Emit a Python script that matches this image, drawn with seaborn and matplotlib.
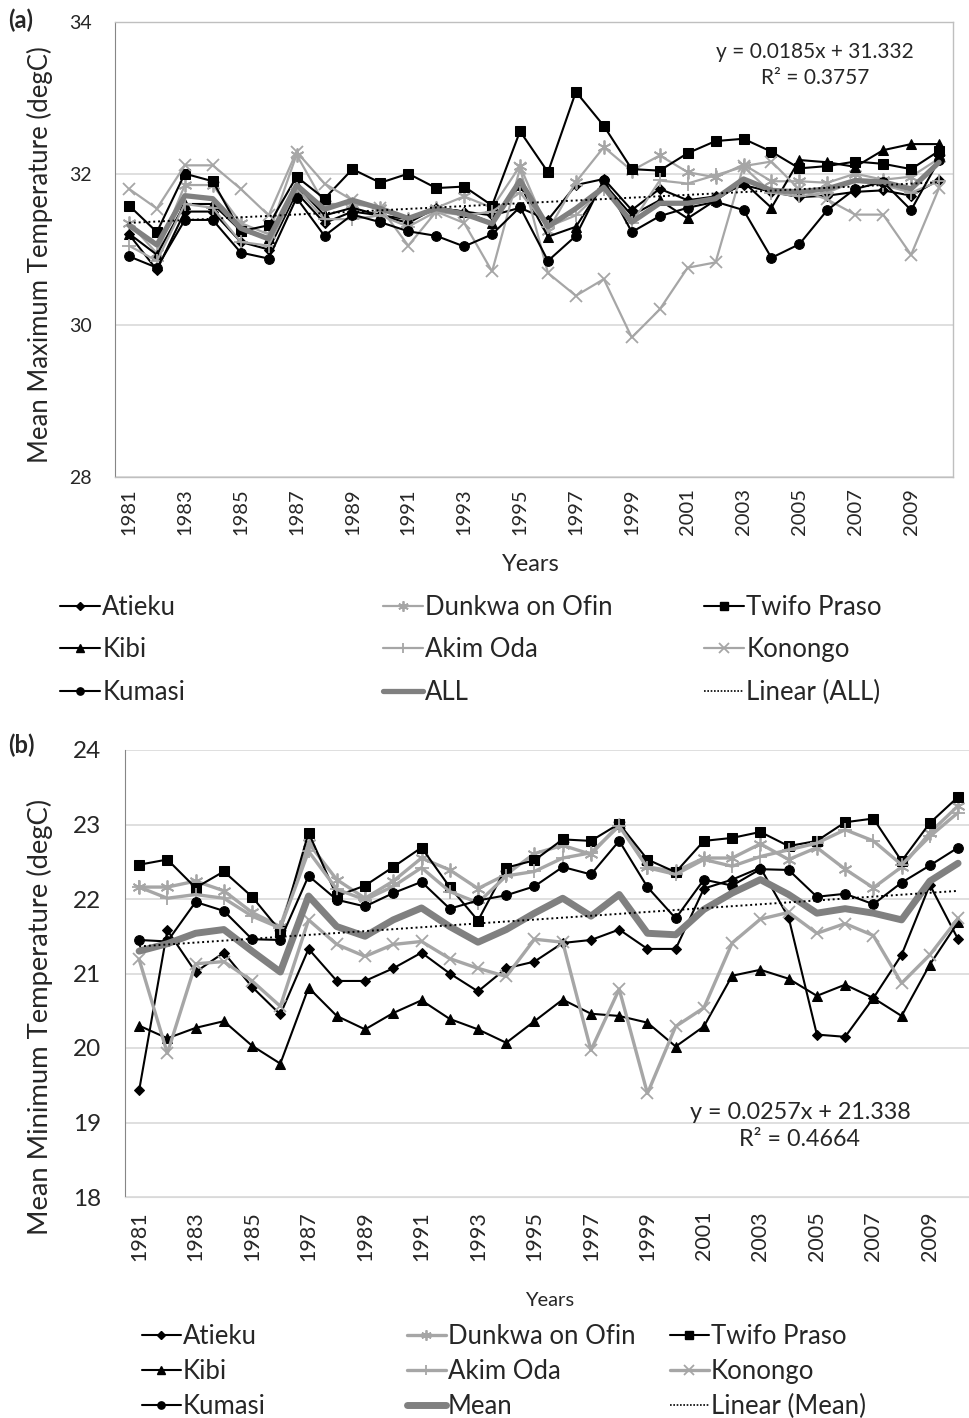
import matplotlib
matplotlib.use("Agg")
import matplotlib.pyplot as plt
from matplotlib.lines import Line2D
import seaborn as sns
import numpy as np

sns.set_style("white")
plt.rcParams['font.family'] = ['Lato', 'DejaVu Sans']

years = list(range(1981, 2011))
year_labels = [str(y) for y in range(1981, 2011, 2)]

# ---- Panel (a): mean maximum temperature ----
tmax_atieku = [31.20, 30.73, 31.50, 31.50, 31.10, 31.00, 31.75, 31.35, 31.50, 31.45,
               31.35, 31.55, 31.50, 31.45, 31.55, 31.39, 31.85, 31.93, 31.52, 31.80,
               31.65, 31.70, 31.85, 31.76, 31.69, 31.71, 31.76, 31.78, 31.71, 31.92]
tmax_kibi = [31.21, 30.93, 31.60, 31.60, 31.25, 31.15, 31.85, 31.45, 31.55, 31.45,
             31.40, 31.55, 31.50, 31.35, 31.85, 31.17, 31.30, 31.87, 31.45, 31.65,
             31.41, 31.65, 31.89, 31.55, 32.18, 32.15, 32.09, 32.31, 32.39, 32.39]
tmax_kumasi = [30.91, 30.76, 31.39, 31.39, 30.96, 30.88, 31.68, 31.18, 31.46, 31.36,
               31.24, 31.18, 31.04, 31.20, 31.56, 30.85, 31.18, 31.92, 31.23, 31.44,
               31.55, 31.63, 31.52, 30.89, 31.07, 31.52, 31.80, 31.89, 31.52, 32.18]
tmax_dunkwa = [31.35, 30.95, 31.85, 31.85, 31.35, 31.20, 32.25, 31.60, 31.60, 31.55,
               31.40, 31.55, 31.70, 31.55, 32.10, 31.25, 31.89, 32.35, 32.04, 32.24,
               32.02, 31.95, 32.12, 31.90, 31.90, 31.88, 32.00, 31.92, 31.96, 32.20]
tmax_akim = [31.05, 30.85, 31.60, 31.55, 31.10, 31.05, 31.80, 31.40, 31.40, 31.45,
             31.30, 31.50, 31.45, 31.50, 31.75, 31.30, 31.45, 31.80, 31.35, 31.91,
             31.87, 31.98, 32.09, 31.75, 31.70, 31.75, 31.90, 31.85, 31.75, 31.90]
tmax_twifo = [31.58, 31.23, 32.00, 31.90, 31.24, 31.32, 31.96, 31.67, 32.06, 31.88,
              32.00, 31.81, 31.83, 31.58, 32.56, 32.02, 33.08, 32.63, 32.06, 32.04,
              32.27, 32.43, 32.46, 32.29, 32.07, 32.10, 32.16, 32.13, 32.06, 32.30]
tmax_konongo = [31.80, 31.54, 32.11, 32.11, 31.80, 31.45, 32.29, 31.87, 31.65, 31.55,
                31.05, 31.50, 31.35, 30.71, 32.07, 30.69, 30.39, 30.61, 29.84, 30.21,
                30.76, 30.83, 32.10, 32.16, 31.79, 31.66, 31.46, 31.46, 30.93, 31.81]
tmax_all = [31.32, 31.06, 31.71, 31.67, 31.28, 31.14, 31.85, 31.53, 31.65, 31.54,
            31.41, 31.54, 31.47, 31.34, 31.91, 31.30, 31.54, 31.82, 31.36, 31.61,
            31.61, 31.67, 31.93, 31.78, 31.76, 31.80, 31.91, 31.89, 31.80, 32.15]
trend_a = [0.0185, 31.332]
eq_a = ["y = 0.0185x + 31.332", "R² = 0.3757"]

# ---- Panel (b): mean minimum temperature ----
tmin_atieku = [19.43, 21.58, 21.02, 21.28, 20.82, 20.45, 21.33, 20.90, 20.90, 21.07,
               21.28, 21.00, 20.76, 21.07, 21.16, 21.41, 21.45, 21.59, 21.33, 21.33,
               22.14, 22.26, 22.42, 21.75, 20.18, 20.15, 20.67, 21.25, 22.19, 21.46]
tmin_kibi = [20.30, 20.13, 20.27, 20.36, 20.03, 19.79, 20.81, 20.43, 20.25, 20.47,
             20.64, 20.39, 20.25, 20.07, 20.36, 20.65, 20.46, 20.43, 20.34, 20.02,
             20.29, 20.97, 21.05, 20.93, 20.70, 20.85, 20.67, 20.43, 21.12, 21.69]
tmin_kumasi = [21.45, 21.43, 21.96, 21.84, 21.46, 21.45, 22.31, 21.99, 21.90, 22.08,
               22.23, 21.87, 21.98, 22.05, 22.17, 22.43, 22.33, 22.78, 22.16, 21.74,
               22.26, 22.18, 22.40, 22.39, 22.03, 22.07, 21.93, 22.22, 22.45, 22.69]
tmin_dunkwa = [22.16, 22.16, 22.24, 22.11, 21.82, 21.63, 22.75, 22.26, 22.01, 22.24,
               22.55, 22.39, 22.14, 22.33, 22.61, 22.72, 22.60, 23.00, 22.43, 22.37,
               22.55, 22.55, 22.74, 22.53, 22.69, 22.40, 22.15, 22.43, 22.89, 23.25]
tmin_akim = [22.16, 22.01, 22.06, 22.01, 21.77, 21.61, 22.64, 22.13, 21.99, 22.17,
             22.42, 22.10, 21.95, 22.31, 22.37, 22.55, 22.62, 22.98, 22.42, 22.33,
             22.53, 22.44, 22.57, 22.66, 22.75, 22.93, 22.78, 22.46, 22.84, 23.16]
tmin_twifo = [22.46, 22.53, 22.15, 22.37, 22.03, 21.57, 22.89, 22.04, 22.18, 22.43,
              22.69, 22.16, 21.71, 22.42, 22.52, 22.80, 22.78, 23.01, 22.53, 22.36,
              22.78, 22.82, 22.90, 22.71, 22.78, 23.03, 23.08, 22.51, 23.02, 23.37]
tmin_konongo = [21.19, 19.93, 21.13, 21.16, 20.90, 20.56, 21.72, 21.39, 21.23, 21.39,
                21.43, 21.20, 21.07, 20.96, 21.46, 21.42, 19.97, 20.79, 19.39, 20.29,
                20.54, 21.41, 21.73, 21.82, 21.54, 21.67, 21.51, 20.87, 21.25, 21.74]
tmin_mean = [21.30, 21.40, 21.54, 21.59, 21.30, 21.02, 22.04, 21.63, 21.50, 21.72,
             21.88, 21.63, 21.42, 21.59, 21.81, 22.01, 21.77, 22.06, 21.54, 21.52,
             21.86, 22.08, 22.26, 22.06, 21.81, 21.87, 21.81, 21.72, 22.24, 22.48]
trend_b = [0.0257, 21.338]
eq_b = ["y = 0.0257x + 21.338", "R² = 0.4664"]

BLACK = "#000000"
LGRAY = "#a6a6a6"
MGRAY = "#808080"
ASTER = (6, 2, 0)

W, H = 970, 1418
fig = plt.figure(figsize=(W / 100, H / 100), dpi=100)


def fx(px):
    return px / W


def fy(py):
    return 1 - py / H


def styles(panel):
    big = panel == "b"
    glw = 2.4 if big else 1.6
    ms = 7
    return {
        "Atieku": dict(color=BLACK, marker="D", markersize=ms - 1.5, linewidth=1.5),
        "Kibi": dict(color=BLACK, marker="^", markersize=ms, linewidth=1.5),
        "Kumasi": dict(color=BLACK, marker="o", markersize=ms, linewidth=1.5),
        "Dunkwa on Ofin": dict(color=LGRAY, marker=ASTER, markersize=ms + 3, linewidth=glw,
                               markeredgewidth=1.3),
        "Akim Oda": dict(color=LGRAY, marker="+", markersize=ms + 3, linewidth=glw,
                         markeredgewidth=1.3),
        "Twifo Praso": dict(color=BLACK, marker="s", markersize=ms, linewidth=1.5),
        "Konongo": dict(color=LGRAY, marker="x", markersize=ms + 2, linewidth=glw,
                        markeredgewidth=1.3),
        "MEAN": dict(color=MGRAY, marker=None, linewidth=5 if big else 3.8),
        "TREND": dict(color=BLACK, marker=None, linewidth=1.4, linestyle=(0, (1, 1.5))),
    }


def draw_panel(ax, series, mean_vals, trend, ylim, yticks, panel):
    st = styles(panel)
    order = ["Atieku", "Dunkwa on Ofin", "Twifo Praso", "Kibi", "Akim Oda",
             "Konongo", "Kumasi"]
    for name in order:
        kw = dict(st[name])
        sns.lineplot(x=years, y=series[name], ax=ax, color=kw.pop("color"),
                     markeredgecolor=st[name]["color"], markerfacecolor=st[name]["color"],
                     legend=False, **kw)
    kw = dict(st["MEAN"])
    sns.lineplot(x=years, y=mean_vals, ax=ax, legend=False, **kw)
    idx = np.arange(1, len(years) + 1)
    trend_vals = trend[0] * idx + trend[1]
    kw = dict(st["TREND"])
    sns.lineplot(x=years, y=trend_vals, ax=ax, legend=False, **kw)
    ax.set_ylim(*ylim)
    ax.set_yticks(yticks)
    ax.set_xticks(list(range(1981, 2011, 2)))
    ax.set_xticklabels(year_labels, rotation=90)
    ax.grid(axis="y", color="#d9d9d9", linewidth=1.2)
    ax.grid(axis="x", visible=False)
    ax.set_axisbelow(True)
    ax.set_xlabel("")
    ax.set_ylabel("")


def build_handles(panel, mean_name, trend_name):
    st = styles(panel)
    cols = [["Atieku", "Kibi", "Kumasi"],
            ["Dunkwa on Ofin", "Akim Oda", "MEAN"],
            ["Twifo Praso", "Konongo", "TREND"]]
    out = []
    for col in cols:
        hs = []
        for name in col:
            kw = dict(st[name])
            c = kw.pop("color")
            label = {"MEAN": mean_name, "TREND": trend_name}.get(name, name)
            if name == "TREND":
                kw["linewidth"] = 1.2
                kw["linestyle"] = (0, (1, 1))
            if kw.get("marker") is not None:
                kw["markersize"] = kw["markersize"] * 0.75
            hs.append(Line2D([0], [0], color=c, markeredgecolor=c, markerfacecolor=c,
                             label=label, **kw))
        out.append(hs)
    return out


# ---------------- Panel (a) ----------------
axa = fig.add_axes([fx(115), fy(477), fx(953 - 115), (477 - 22) / H])
series_a = {"Atieku": tmax_atieku, "Kibi": tmax_kibi, "Kumasi": tmax_kumasi,
            "Dunkwa on Ofin": tmax_dunkwa, "Akim Oda": tmax_akim,
            "Twifo Praso": tmax_twifo, "Konongo": tmax_konongo}
draw_panel(axa, series_a, tmax_all, trend_a, (28, 34), [28, 30, 32, 34], "a")
axa.set_xlim(1980.5, 2010.5)
for s in ["top", "right", "bottom"]:
    axa.spines[s].set_color("#bfbfbf")
    axa.spines[s].set_linewidth(1.0)
axa.spines["left"].set_color("#868686")
axa.tick_params(axis="y", labelsize=14, pad=17, length=0)
axa.tick_params(axis="x", labelsize=14.5, pad=8, length=0)
axa.text(0.835, 0.905, eq_a[0] + "\n" + eq_a[1], transform=axa.transAxes,
         ha="center", va="center", fontsize=15, linespacing=1.4)

fig.text(fx(40), fy(255), "Mean Maximum Temperature (degC)", rotation=90,
         ha="center", va="center", fontsize=18.5)
fig.text(fx(531), fy(565), "Years", ha="center", va="center", fontsize=17)
fig.text(fx(8), fy(20), "(a)", ha="left", va="center", fontsize=17, fontweight="bold")

handles_a = build_handles("a", "ALL", "Linear (ALL)")
for hs, x in zip(handles_a, [60, 383, 704]):
    fig.legend(handles=hs, loc="upper left", bbox_to_anchor=(fx(x), fy(595)),
               frameon=False, fontsize=18.5, handlelength=1.55, handletextpad=0.1,
               labelspacing=0.68, borderaxespad=0, borderpad=0)

# ---------------- Panel (b) ----------------
axb = fig.add_axes([fx(125), fy(1197), fx(970 - 125), (1197 - 750) / H])
series_b = {"Atieku": tmin_atieku, "Kibi": tmin_kibi, "Kumasi": tmin_kumasi,
            "Dunkwa on Ofin": tmin_dunkwa, "Akim Oda": tmin_akim,
            "Twifo Praso": tmin_twifo, "Konongo": tmin_konongo}
draw_panel(axb, series_b, tmin_mean, trend_b, (18, 24),
           [18, 19, 20, 21, 22, 23, 24], "b")
axb.set_xlim(1980.5, 1980.5 + (970 - 125) / 28.24)
axb.spines["top"].set_visible(False)
axb.spines["right"].set_visible(False)
axb.spines["bottom"].set_color("#d9d9d9")
axb.spines["left"].set_color("#868686")
axb.tick_params(axis="y", labelsize=17.5, pad=17, length=0)
axb.tick_params(axis="x", labelsize=15.5, pad=10, length=0)
axb.text((800 - 125) / (970 - 125), 1 - (1126 - 750) / (1197 - 750),
         eq_b[0] + "\n" + eq_b[1], transform=axb.transAxes,
         ha="center", va="center", fontsize=16.8, linespacing=1.35)

fig.text(fx(40), fy(1017), "Mean Minimum Temperature (degC)", rotation=90,
         ha="center", va="center", fontsize=19.7)
fig.text(fx(550), fy(1300), "Years", ha="center", va="center", fontsize=14.5)
fig.text(fx(8), fy(745), "(b)", ha="left", va="center", fontsize=17, fontweight="bold")

handles_b = build_handles("b", "Mean", "Linear (Mean)")
for hs, x in zip(handles_b, [142, 407, 670]):
    fig.legend(handles=hs, loc="upper left", bbox_to_anchor=(fx(x), fy(1324)),
               frameon=False, fontsize=18.5, handlelength=1.5, handletextpad=0.1,
               labelspacing=0.38, borderaxespad=0, borderpad=0)

fig.savefig("out.png", dpi=100)
